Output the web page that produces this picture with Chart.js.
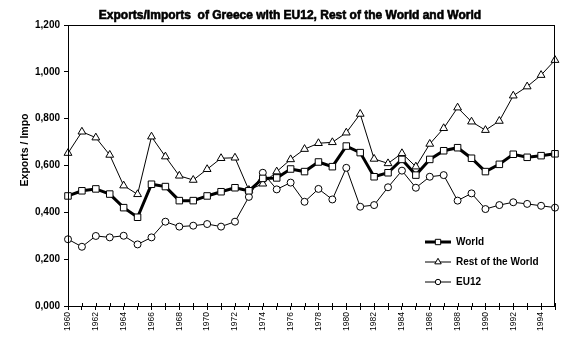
<!DOCTYPE html>
<html><head><meta charset="utf-8">
<script src="https://cdn.jsdelivr.net/npm/chart.js@4/dist/chart.umd.min.js"></script>
<style>html,body{margin:0;padding:0;background:#fff}</style>
</head><body>
<canvas id="c" width="574" height="339"></canvas>
<script>
const titleText = 'Exports/Imports  of Greece with EU12, Rest of the World and World';
const yAxisTitle = 'Exports / Impo';
const years = ['1960','1961','1962','1963','1964','1965','1966','1967','1968','1969',
  '1970','1971','1972','1973','1974','1975','1976','1977','1978','1979',
  '1980','1981','1982','1983','1984','1985','1986','1987','1988','1989',
  '1990','1991','1992','1993','1994','1995'];
const world = [0.470,0.492,0.500,0.478,0.420,0.379,0.520,0.510,0.450,0.450,
  0.470,0.488,0.505,0.492,0.545,0.547,0.585,0.574,0.615,0.595,
  0.683,0.655,0.552,0.569,0.626,0.559,0.626,0.663,0.676,0.631,
  0.574,0.605,0.648,0.635,0.642,0.650];
const restOfWorld = [0.653,0.744,0.719,0.645,0.514,0.477,0.723,0.638,0.556,0.538,
  0.584,0.631,0.633,0.495,0.522,0.574,0.626,0.670,0.695,0.699,
  0.740,0.820,0.628,0.609,0.652,0.595,0.692,0.759,0.847,0.787,
  0.751,0.790,0.898,0.937,0.986,1.050];
const eu12 = [0.285,0.253,0.299,0.293,0.300,0.263,0.293,0.360,0.339,0.343,
  0.350,0.339,0.360,0.466,0.569,0.498,0.527,0.445,0.500,0.455,
  0.590,0.424,0.431,0.507,0.578,0.505,0.552,0.559,0.450,0.481,
  0.414,0.431,0.443,0.436,0.428,0.420];
const seriesNames = ['World','Rest of the World','EU12'];

const FONT = "'Liberation Sans', Arial, sans-serif";

const decor = {
  id: 'decor',
  afterDraw(chart) {
    const ctx = chart.ctx, a = chart.chartArea;
    ctx.save();
    // box around plot
    ctx.strokeStyle = '#000'; ctx.lineWidth = 1;
    ctx.strokeRect(Math.round(a.left) + 0.5, Math.round(a.top) + 0.5,
      Math.round(a.right - a.left) - 1, Math.round(a.bottom - a.top));
    // inner x tick marks (ticks cross the axis)
    const xs = chart.scales.x;
    ctx.beginPath();
    xs.ticks.forEach((t, i) => {
      const px = Math.round(xs.getPixelForTick(i)) + 0.5;
      ctx.moveTo(px, a.bottom - 3); ctx.lineTo(px, a.bottom);
    });
    ctx.stroke();
    // title
    ctx.fillStyle = '#000';
    ctx.strokeStyle = '#000';
    ctx.lineWidth = 0.6;
    ctx.font = 'bold 12px ' + FONT;
    ctx.textAlign = 'center'; ctx.textBaseline = 'middle';
    ctx.fillText(titleText, 290, 16);
    ctx.strokeText(titleText, 290, 16);
    // y title
    ctx.save();
    ctx.translate(25, 150);
    ctx.rotate(-Math.PI / 2);
    ctx.font = 'bold 10.5px ' + FONT;
    ctx.fillText(yAxisTitle, 0, 0);
    ctx.restore();
    // legend
    chart.data.datasets.forEach((ds, i) => {
      const y = 242 + 20 * i;
      ctx.strokeStyle = ds.borderColor;
      ctx.lineWidth = ds.borderWidth;
      ctx.beginPath(); ctx.moveTo(425, y); ctx.lineTo(451, y); ctx.stroke();
      ctx.fillStyle = '#fff';
      ctx.strokeStyle = '#000';
      ctx.lineWidth = 1;
      Chart.helpers.drawPoint(ctx, {pointStyle: ds.pointStyle, radius: ds.pointRadius - 0.8, rotation: 0, borderWidth: 1}, 438, y);
      ctx.fillStyle = '#000';
      ctx.font = 'bold 10px ' + FONT;
      ctx.textAlign = 'left'; ctx.textBaseline = 'middle';
      ctx.fillText(ds.label, 456, y);
    });
    ctx.restore();
  }
};

new Chart(document.getElementById('c'), {
  type: 'line',
  data: {
    labels: years,
    datasets: [
      {label: seriesNames[0], data: world, borderColor: '#000', borderWidth: 3,
       pointStyle: 'rect', pointRadius: 4.6, pointBackgroundColor: '#fff',
       pointBorderColor: '#000', pointBorderWidth: 1, tension: 0},
      {label: seriesNames[1], data: restOfWorld, borderColor: '#000', borderWidth: 1,
       pointStyle: 'triangle', pointRadius: 4.5, pointBackgroundColor: '#fff',
       pointBorderColor: '#000', pointBorderWidth: 1, tension: 0},
      {label: seriesNames[2], data: eu12, borderColor: '#000', borderWidth: 1,
       pointStyle: 'circle', pointRadius: 3.5, pointBackgroundColor: '#fff',
       pointBorderColor: '#000', pointBorderWidth: 1, tension: 0}
    ]
  },
  options: {
    responsive: false,
    animation: false,
    layout: {padding: {left: 0, top: 25, right: 19, bottom: 0}},
    plugins: {legend: {display: false}, tooltip: {enabled: false}, title: {display: false}},
    scales: {
      x: {
        type: 'category',
        offset: false,
        afterFit(s) { s.height = 33; },
        grid: {drawOnChartArea: false, tickLength: 4, color: '#000'},
        border: {color: '#000', width: 1},
        ticks: {
          autoSkip: false, minRotation: 90, maxRotation: 90, padding: 2,
          color: '#000', font: {family: FONT, size: 8.5},
          callback(v, i) { return i % 2 === 0 ? years[i] : ''; }
        }
      },
      y: {
        min: 0, max: 1.2,
        afterFit(s) { s.width = 68; },
        grid: {drawOnChartArea: false, tickLength: 4, color: '#000'},
        border: {color: '#000', width: 1},
        ticks: {
          stepSize: 0.2, padding: 4, color: '#000',
          font: {family: FONT, size: 10, weight: 'bold'},
          callback(v) { return v.toFixed(3).replace('.', ','); }
        }
      }
    }
  },
  plugins: [decor]
});
</script>
</body></html>
